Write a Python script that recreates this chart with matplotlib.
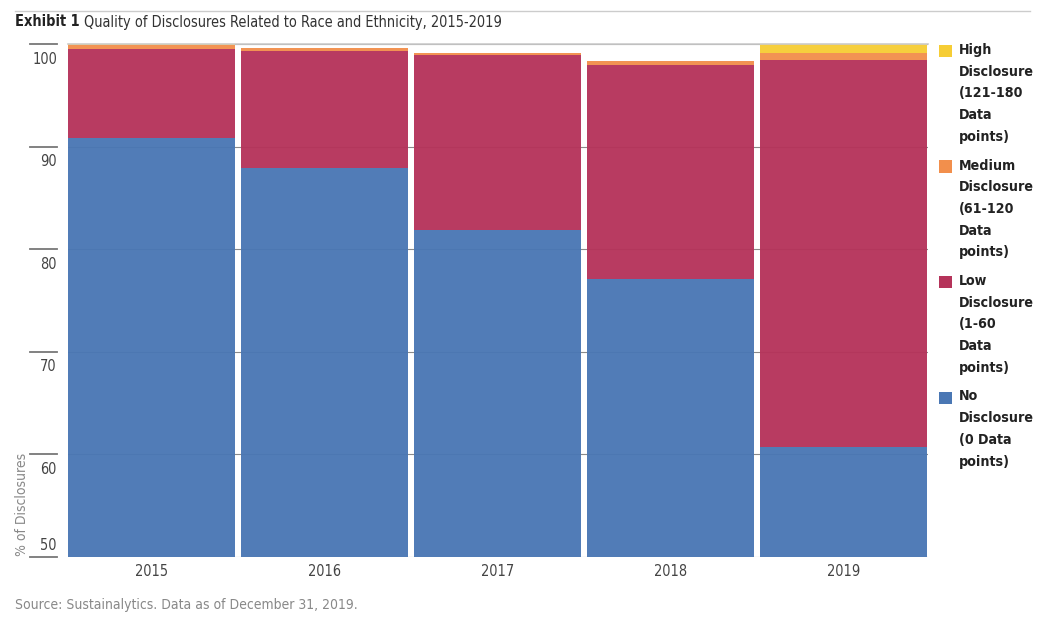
import matplotlib
matplotlib.use("Agg")
import matplotlib.pyplot as plt
import matplotlib.transforms as mtransforms
from matplotlib import font_manager as fm
from matplotlib.patches import Rectangle
from matplotlib.lines import Line2D

# pick a narrow font if one is there, the original uses a condensed face
names = {f.name for f in fm.fontManager.ttflist}
cond = [f for f in fm.fontManager.ttflist if str(f.stretch) in ('condensed', 'semi-condensed')]
if 'Liberation Sans Narrow' in names:
    plt.rcParams['font.family'] = ['Liberation Sans Narrow', 'DejaVu Sans']
elif any(f.name == 'DejaVu Sans' for f in cond):
    plt.rcParams['font.family'] = ['DejaVu Sans']
    plt.rcParams['font.stretch'] = 'condensed'
elif cond:
    plt.rcParams['font.family'] = [cond[0].name, 'DejaVu Sans']
    plt.rcParams['font.stretch'] = 'condensed'
else:
    plt.rcParams['font.family'] = ['DejaVu Sans']

# data (% of disclosures)
years = ['2015', '2016', '2017', '2018', '2019']
no_disc = [90.8, 87.9, 81.9, 77.1, 60.7]
low_disc = [8.7, 11.4, 17.0, 20.9, 37.7]
med_disc = [0.4, 0.3, 0.2, 0.3, 0.7]
high_disc = [0.1, 0.05, 0.0, 0.0, 0.9]
yticks = [50, 60, 70, 80, 90, 100]

series = [
    (no_disc, '#4a77b4', 'No\nDisclosure\n(0 Data\npoints)'),
    (low_disc, '#b5335a', 'Low\nDisclosure\n(1-60\nData\npoints)'),
    (med_disc, '#f28f4c', 'Medium\nDisclosure\n(61-120\nData\npoints)'),
    (high_disc, '#f6cd35', 'High\nDisclosure\n(121-180\nData\npoints)'),
]

title = 'Quality of Disclosures Related to Race and Ethnicity, 2015-2019'

fig = plt.figure(figsize=(10.44, 6.2), dpi=100)

# scale the type so the title is about as wide as in the original (~401 px)
probe = fig.text(0, 0, title, fontsize=12)
fig.canvas.draw()
k = 401 / probe.get_window_extent().width
probe.remove()
fs = lambda s: s * k

ax = fig.add_axes([68 / 1044, 1 - 557 / 620, 860 / 1044, 513 / 620])

x = list(range(len(years)))
bottom = [0.0] * len(years)
for vals, color, label in series:
    ax.bar(x, vals, width=0.965, bottom=bottom, color=color, alpha=0.96,
           linewidth=0, zorder=2)
    bottom = [b + v for b, v in zip(bottom, vals)]

ax.set_ylim(50, 100)
ax.set_xlim(-0.4825, 4.4885)
for spine in ['left', 'right', 'bottom']:
    ax.spines[spine].set_visible(False)
ax.spines['top'].set_color('#cccccc')
ax.spines['top'].set_linewidth(1.2)

ax.set_yticks(yticks)
ax.yaxis.grid(True, color='#8a8a8a', linewidth=0.8, zorder=0)
ax.tick_params(axis='y', length=0, labelleft=False)
ax.set_axisbelow(True)

ax.set_xticks(x)
ax.set_xticklabels(years)
ax.tick_params(axis='x', length=0, pad=5, labelsize=fs(12.5), labelcolor='#444444')

# tick marks left of the plot with the labels hanging below them
trans = mtransforms.blended_transform_factory(ax.transAxes, ax.transData)
for t in yticks:
    ax.add_line(Line2D([-0.044, -0.0128], [t, t], transform=trans,
                       color='#777777', linewidth=1.3, clip_on=False))
    dy = 12 / 100 if t == 50 else -15 / 100
    off = mtransforms.offset_copy(trans, fig=fig, y=dy, units='inches')
    ax.text(-0.0128, t, str(t), transform=off, ha='right', va='center',
            fontsize=fs(12.5), color='#444444')

fig.text(22 / 1044, 1 - 504 / 620, '% of Disclosures', rotation=90,
         ha='center', va='center', fontsize=fs(12), color='#888888')

# title and top rule
fig.add_artist(Line2D([15 / 1044, 1030 / 1044], [1 - 11 / 620, 1 - 11 / 620],
                      color='#cccccc', linewidth=1))
t1 = fig.text(15 / 1044, 1 - 22 / 620, 'Exhibit 1', fontsize=fs(12.5),
              fontweight='bold', va='center', color='#222222')
fig.canvas.draw()
bb = t1.get_window_extent()
fig.text((bb.x1 + 4) / 1044, 1 - 22 / 620, title,
         fontsize=fs(12.5), va='center', color='#333333')

fig.text(15 / 1044, 1 - 605 / 620, 'Source: Sustainalytics. Data as of December 31, 2019.',
         fontsize=fs(12), va='center', color='#888888')

# legend, top to bottom
for i, (vals, color, label) in enumerate(reversed(series)):
    ytop = 45 + i * 115.5
    fig.add_artist(Rectangle((939 / 1044, 1 - (ytop + 12) / 620), 13 / 1044, 12 / 620,
                             transform=fig.transFigure, color=color, linewidth=0))
    fig.text(959 / 1044, 1 - (ytop - 2) / 620, label, fontsize=fs(12.2), fontweight='bold',
             va='top', ha='left', linespacing=1.7, color='#222222')

fig.savefig('out.png', dpi=100)
